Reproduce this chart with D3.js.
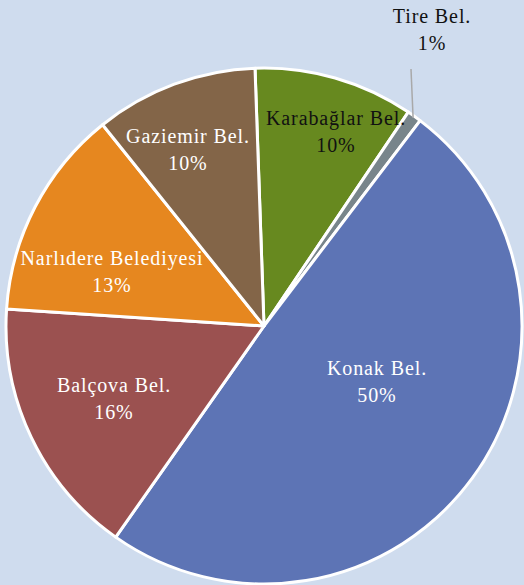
<!DOCTYPE html>
<html>
<head>
<meta charset="utf-8">
<script src="https://cdn.jsdelivr.net/npm/d3@7"></script>
<style>
  html, body { margin: 0; padding: 0; background: #cfdcee; }
  svg { display: block; }
</style>
</head>
<body>
<svg id="chart" width="524" height="585"></svg>
<script>
// ---- data ----
const categories = ["Karabağlar Bel.", "Tire Bel.", "Konak Bel.", "Balçova Bel.", "Narlıdere Belediyesi", "Gaziemir Bel."];
const values = [10.0, 0.9, 49.4, 16.3, 13.2, 10.2];
const percentLabels = ["10%", "1%", "50%", "16%", "13%", "10%"];
const colors = ["#67891f", "#78858b", "#5d74b5", "#9b5150", "#e6871f", "#836548"];
const textColors = ["#111111", "#111111", "#ffffff", "#ffffff", "#ffffff", "#ffffff"];

// ---- layout ----
const W = 524, H = 585;
const cx = 264, cy = 326, R = 258;
const startDeg = -2;
// label anchor offsets from pie centre (first-line baseline + 4)
const labelOffset = [
  [72, -197],
  [168, -299],
  [113, 53],
  [-150, 70],
  [-152, -57],
  [-76, -179]
];

const svg = d3.select("#chart");
svg.append("rect").attr("width", W).attr("height", H).attr("fill", "#cfdcee");

const data = categories.map((c, i) => ({name: c, value: values[i], pct: percentLabels[i], color: colors[i], tc: textColors[i], lo: labelOffset[i]}));

const pie = d3.pie().sort(null).value(d => d.value)
  .startAngle(startDeg * Math.PI / 180)
  .endAngle((startDeg + 360) * Math.PI / 180);
const arc = d3.arc().innerRadius(0).outerRadius(R);

const g = svg.append("g").attr("transform", `translate(${cx},${cy})`);
const arcs = pie(data);

g.selectAll("path.slice").data(arcs).enter().append("path")
  .attr("class", "slice")
  .attr("d", arc)
  .attr("fill", d => d.data.color)
  .attr("stroke", "#ffffff")
  .attr("stroke-width", 3)
  .attr("stroke-linejoin", "round");

// leader line for Tire
const tire = arcs[1];
const midA = (tire.startAngle + tire.endAngle) / 2;
const p0 = [ (R - 2) * Math.sin(midA), -(R - 2) * Math.cos(midA) ];
const tp = labelOffset[1];
g.append("line")
  .attr("x1", tp[0] - 21).attr("y1", tp[1] + 42)
  .attr("x2", p0[0]).attr("y2", p0[1])
  .attr("stroke", "#a9a9a9").attr("stroke-width", 1.5);

const labels = g.selectAll("g.lbl").data(arcs).enter().append("g").attr("class", "lbl")
  .attr("transform", d => `translate(${d.data.lo[0]},${d.data.lo[1]})`);

const font = "'Liberation Serif', 'DejaVu Serif', serif";
labels.append("text")
  .attr("text-anchor", "middle")
  .attr("y", -4)
  .attr("font-family", font)
  .attr("font-size", 20)
  .attr("letter-spacing", 0.9)
  .attr("fill", d => d.data.tc)
  .text(d => d.data.name);
labels.append("text")
  .attr("text-anchor", "middle")
  .attr("y", 23)
  .attr("font-family", font)
  .attr("font-size", 20)
  .attr("letter-spacing", 0.9)
  .attr("fill", d => d.data.tc)
  .text(d => d.data.pct);
</script>
</body>
</html>
